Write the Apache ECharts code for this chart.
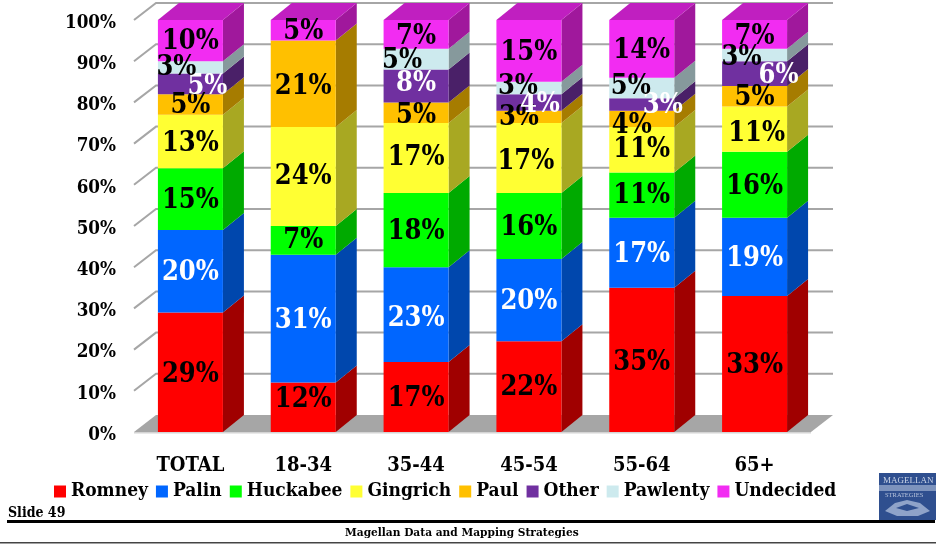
<!DOCTYPE html>
<html><head><meta charset="utf-8">
<style>html,body{margin:0;padding:0;background:#fff}#c{width:936px;height:544px}</style>
<script src="https://cdn.jsdelivr.net/npm/echarts@6/dist/echarts.min.js"></script>
</head><body><div id="c"></div>
<script>
const categories = ['TOTAL','18-34','35-44','45-54','55-64','65+'];
const yTicks = [0,10,20,30,40,50,60,70,80,90,100];
const Romney    = [29,12,17,22,35,33];
const Palin     = [20,31,23,20,17,19];
const Huckabee  = [15,7,18,16,11,16];
const Gingrich  = [13,24,17,17,11,11];
const Paul      = [5,21,5,3,4,5];
const Other     = [5,null,8,4,3,6];
const Pawlenty  = [3,null,5,3,5,3];
const Undecided = [10,5,7,15,14,7];

const seriesNames = ['Romney','Palin','Huckabee','Gingrich','Paul','Other','Pawlenty','Undecided'];
const seriesValues = [Romney,Palin,Huckabee,Gingrich,Paul,Other,Pawlenty,Undecided];
const frontColors = ['#ff0000','#0066ff','#00ff00','#ffff33','#ffc000','#7030a0','#cdeaee','#f22cf2'];
const sideColors  = ['#a00000','#0047ad','#00aa00','#a8a822','#a67c00','#4a2068','#86999c','#a0189c'];
const labelColors = ['#000','#fff','#000','#000','#000','#fff','#000','#000'];
const TOP_COLOR = '#c01fc0';
const GRID_COLOR = '#a6a6a6';
const FONT = '"DejaVu Serif Condensed","DejaVu Serif","Liberation Serif",serif';
const BAR_W = 65, DX = 21, DY = 17;

// label nudges per series, per category: [dx, dy] away from the segment's centre
const nudges = [
  [[0,3],[0,-7],[0,2],[0,1],[0,3],[0,2]],
  [[0,2],[0,2],[0,4],[0,2],[0,2],[0,2]],
  [[0,2],[0,1],[0,2],[0,2],[0,1],[0,2]],
  [[0,2],[0,0],[0,0],[-3,4],[0,0],[2,5]],
  [[0,2],[0,3],[0,3],[-10,1],[-10,7],[0,2]],
  [[17,3],null,[0,-2],[11,3],[21,2],[24,2]],
  [[-14,1],null,[-14,2],[-11,-1],[-11,-1],[-13,3]],
  [[0,1],[0,2],[0,3],[0,2],[0,2],[0,3]]
];

const bars = seriesNames.map((name,s)=>({
  name, type:'bar', stack:'all', barWidth:BAR_W, z:3, silent:true,
  itemStyle:{color:frontColors[s]},
  data: seriesValues[s].map((v,c)=>({
    value:v,
    label:{show:v!=null, position:'inside', formatter:'{c}%', offset:nudges[s][c]||[0,0],
      color:labelColors[s], fontFamily:FONT, fontWeight:'bold', fontSize:27}
  }))
}));

// depth faces, derived from the same values
const faceData = [];
categories.forEach((_,c)=>{
  let base=0;
  seriesValues.forEach((vals,s)=>{
    const v=vals[c]; if(v==null) return;
    faceData.push([c,base,base+v,s]); base+=v;
  });
});
const faces = {
  type:'custom', z:2, silent:true, clip:false, encode:{x:0,y:2},
  data:faceData,
  renderItem(p,api){
    const c=api.value(0), lo=api.value(1), hi=api.value(2), s=api.value(3);
    const a=api.coord([c,lo]), b=api.coord([c,hi]);
    const R=a[0]+BAR_W/2, L=a[0]-BAR_W/2;
    const kids=[{type:'polygon',shape:{points:[[R,a[1]],[R+DX,a[1]-DY],[R+DX,b[1]-DY],[R,b[1]]]},style:{fill:sideColors[s]}}];
    if(hi>=100) kids.push({type:'polygon',shape:{points:[[L,b[1]],[L+DX,b[1]-DY],[R+DX,b[1]-DY],[R,b[1]]]},style:{fill:TOP_COLOR}});
    return {type:'group',children:kids};
  }
};
// back wall, side wall gridlines and floor
const wall = {
  type:'custom', z:1, silent:true, clip:false, encode:{y:0},
  data:yTicks.map(t=>[t]),
  renderItem(p,api){
    const t=api.value(0), q=api.coord([0,t]);
    const x0=p.coordSys.x, x1=x0+p.coordSys.width, y=q[1];
    if(t===0) return {type:'group',children:[
      {type:'rect',shape:{x:x0,y:y,width:x1-x0,height:1.5},style:{fill:'#d4d4d4'}},
      {type:'polygon',shape:{points:[[x0,y],[x0+DX+1,y-DY],[x1+DX+1,y-DY],[x1,y]]},style:{fill:GRID_COLOR}}
    ]};
    return {type:'polyline',shape:{points:[[x0,y],[x0+DX+1,y-DY],[x1+DX+1,y-DY]]},style:{fill:'none',stroke:GRID_COLOR,lineWidth:2}};
  }
};

const chart = echarts.init(document.getElementById('c'),null,{renderer:'canvas'});
chart.setOption({
  animation:false, backgroundColor:'#fff',
  grid:{left:134,top:20,width:677,height:412},
  tooltip:{show:false},
  xAxis:{type:'category',data:categories,axisLine:{show:false},axisTick:{show:false},
    axisLabel:{margin:24,color:'#000',fontFamily:FONT,fontWeight:'bold',fontSize:20}},
  yAxis:{type:'value',min:0,max:100,interval:10,splitLine:{show:false},axisLine:{show:false},axisTick:{show:false},
    axisLabel:{margin:18,formatter:'{t|{value}%}',rich:{t:{padding:[6,0,0,0],color:'#000',fontFamily:FONT,fontWeight:'bold',fontSize:18.7}}}},
  legend:{data:seriesNames,left:49,top:477,itemWidth:12,itemHeight:12,itemGap:8,icon:'rect',
    selectedMode:false,textStyle:{color:'#000',fontFamily:FONT,fontWeight:'bold',fontSize:19,padding:[0,0,0,0]}},
  series:[wall,faces,...bars],
  graphic:[
    {type:'text',left:8,top:506,style:{text:'Slide 49',fill:'#000',font:'bold 14px "DejaVu Serif Condensed",serif'}},
    {type:'rect',shape:{x:7,y:520,width:928,height:3},style:{fill:'#000'}},
    {type:'text',left:345,top:527,style:{text:'Magellan Data and Mapping Strategies',fill:'#000',font:'bold 11.8px "DejaVu Serif Condensed",serif'}},
    {type:'rect',shape:{x:0,y:542,width:936,height:1.5},style:{fill:'#444'}},
    {type:'rect',shape:{x:879,y:473,width:57,height:47},style:{fill:'#2f4f8f'}},
    {type:'rect',shape:{x:879,y:485,width:57,height:6},style:{fill:'#7d93bd'}},
    {type:'text',left:883,top:476,style:{text:'MAGELLAN',fill:'#c9d3e6',font:'9px "Liberation Serif",serif'}},
    {type:'text',left:885,top:492,style:{text:'STRATEGIES',fill:'#b6c3dc',font:'6.5px "Liberation Serif",serif'}},
    {type:'polygon',shape:{points:[[885,511],[895,503],[907,500],[920,503],[930,511],[918,516],[897,516]]},style:{fill:'#8fa3c9'}},
    {type:'polygon',shape:{points:[[896,508],[907,504],[919,508],[907,511]]},style:{fill:'#2f4f8f'}}
  ]
});
</script></body></html>
